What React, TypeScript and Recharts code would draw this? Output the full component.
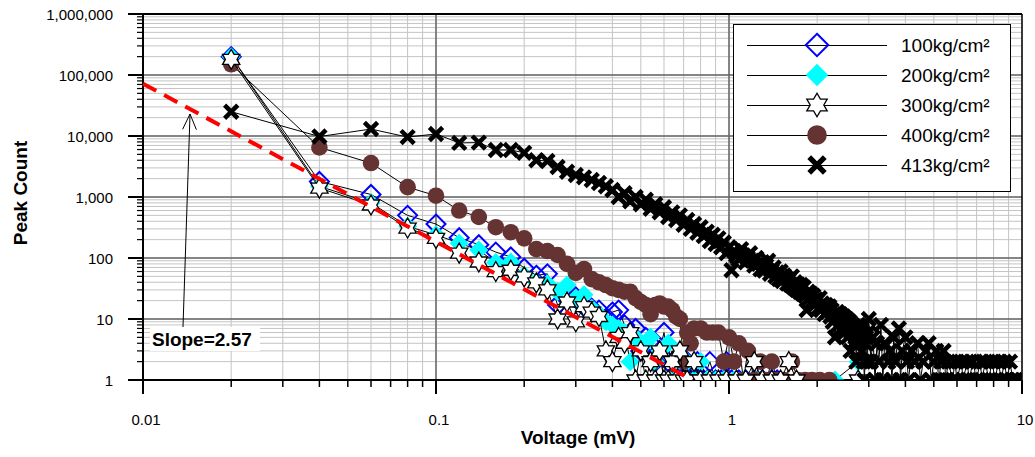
import React from 'react';
import {
  ScatterChart,
  Scatter,
  XAxis,
  YAxis,
  CartesianGrid,
  ReferenceLine,
  ReferenceDot,
  Legend,
} from 'recharts';

const FONT = '"Liberation Sans", Arial, Helvetica, sans-serif';

// axis decades
const X_MAJOR = [0.01, 0.1, 1, 10];
const Y_MAJOR = [1, 10, 100, 1000, 10000, 100000, 1000000];
const MINOR_STEPS = [2, 3, 4, 5, 6, 7, 8, 9];

// peak counts per voltage bin (mV, count)
const P100 = [
  [0.02, 200000], [0.04, 1800], [0.06, 1100], [0.08, 500], [0.1, 360], [0.12, 215], [0.14, 165],
  [0.16, 125], [0.18, 104], [0.2, 68], [0.22, 52], [0.24, 55], [0.26, 17], [0.28, 21], [0.3, 23],
  [0.32, 16], [0.34, 15], [0.36, 14], [0.38, 10], [0.4, 13], [0.42, 14], [0.44, 8], [0.46, 6],
  [0.48, 7], [0.5, 3], [0.52, 5], [0.54, 4], [0.56, 2], [0.58, 3], [0.6, 6], [0.62, 2], [0.64, 3],
  [0.66, 1], [0.68, 2], [0.7, 1], [0.72, 2], [0.74, 1], [0.76, 1], [0.78, 2], [0.8, 1], [0.82, 1],
  [0.86, 2], [0.9, 1], [0.94, 1], [0.98, 2], [1.02, 1], [1.08, 1], [1.14, 1], [1.22, 1], [1.3, 1],
  [1.4, 1], [1.46, 1],
];

const P200 = [
  [0.02, 200000], [0.04, 1500], [0.06, 800], [0.08, 330], [0.1, 240], [0.12, 175], [0.14, 135],
  [0.16, 84], [0.18, 86], [0.2, 52], [0.22, 40], [0.24, 38], [0.26, 28], [0.28, 36], [0.3, 22],
  [0.32, 25], [0.34, 15], [0.36, 12], [0.38, 9], [0.4, 8], [0.42, 7], [0.44, 6], [0.46, 2],
  [0.48, 5], [0.5, 4], [0.52, 4], [0.54, 5], [0.56, 2], [0.58, 3], [0.6, 1], [0.62, 4], [0.64, 1],
  [0.66, 2], [0.68, 1], [0.7, 1], [0.72, 2], [0.76, 1], [0.8, 2], [0.84, 1], [0.9, 1], [0.96, 1],
  [1.04, 1], [1.12, 1], [1.24, 1], [1.4, 1], [2.3, 1], [2.76, 2],
];

const P300 = [
  [0.02, 180000], [0.04, 1400], [0.06, 740], [0.08, 310], [0.1, 210], [0.12, 120], [0.14, 86],
  [0.16, 60], [0.18, 63], [0.2, 49], [0.22, 39], [0.24, 30], [0.26, 10], [0.28, 19], [0.3, 9],
  [0.32, 16], [0.34, 13], [0.36, 11], [0.38, 3], [0.4, 2], [0.42, 5], [0.44, 4], [0.46, 6],
  [0.48, 1], [0.5, 3], [0.52, 1], [0.54, 2], [0.56, 1], [0.58, 3], [0.6, 1], [0.62, 1], [0.64, 2],
  [0.66, 1], [0.68, 3], [0.7, 1], [0.72, 1], [0.76, 2], [0.8, 1], [0.86, 1], [0.92, 1], [0.98, 1],
  [1.06, 1], [1.14, 1], [1.22, 2], [1.3, 1], [1.4, 1], [1.5, 1], [1.6, 2], [1.7, 1], [2.76, 1],
];

const P400 = [
  [0.02, 150000], [0.04, 6500], [0.06, 3600], [0.08, 1450], [0.1, 1050], [0.12, 600], [0.14, 470],
  [0.16, 320], [0.18, 265], [0.2, 210], [0.22, 140], [0.24, 130], [0.26, 112], [0.28, 80],
  [0.3, 57], [0.32, 66], [0.34, 45], [0.36, 40], [0.38, 36], [0.4, 32], [0.42, 30], [0.44, 28],
  [0.46, 28], [0.48, 22], [0.5, 19], [0.52, 17], [0.54, 12], [0.56, 17], [0.58, 18], [0.6, 16],
  [0.62, 16], [0.64, 14], [0.66, 11], [0.68, 10], [0.7, 2], [0.72, 6], [0.74, 4], [0.76, 7],
  [0.8, 7], [0.84, 6], [0.88, 6], [0.92, 6], [0.96, 2], [1.0, 5], [1.04, 2], [1.08, 4], [1.12, 1],
  [1.16, 3], [1.22, 1], [1.28, 2], [1.34, 1], [1.4, 2], [1.46, 1], [1.54, 1], [1.64, 2], [1.72, 1],
  [1.82, 1], [1.92, 1], [2.04, 1], [2.2, 1],
];

const P413 = [
  [0.02, 25000], [0.04, 9800], [0.06, 13000], [0.08, 9600], [0.1, 10800], [0.12, 7700],
  [0.14, 7800], [0.16, 5900], [0.18, 5900], [0.2, 5300], [0.22, 4000], [0.24, 3900], [0.26, 3100],
  [0.28, 2600], [0.3, 2300], [0.32, 2100], [0.34, 1900], [0.36, 1700], [0.38, 1500], [0.4, 1300],
  [0.42, 1000], [0.44, 1150], [0.46, 850], [0.48, 1000], [0.5, 760], [0.52, 900], [0.54, 640],
  [0.56, 760], [0.58, 560], [0.6, 680], [0.62, 470], [0.64, 560], [0.66, 420], [0.68, 500],
  [0.7, 350], [0.72, 420], [0.74, 300], [0.76, 360], [0.78, 260], [0.8, 320], [0.82, 230],
  [0.84, 270], [0.86, 190], [0.88, 240], [0.9, 170], [0.92, 210], [0.94, 150], [0.96, 180],
  [0.98, 120], [1.0, 150], [1.02, 63], [1.04, 130], [1.06, 110], [1.08, 95], [1.1, 140],
  [1.12, 110], [1.14, 85], [1.16, 100], [1.18, 120], [1.2, 90], [1.22, 75], [1.24, 100],
  [1.26, 80], [1.28, 65], [1.3, 85], [1.32, 62], [1.34, 75], [1.36, 90], [1.38, 55], [1.4, 63],
  [1.42, 70], [1.44, 50], [1.46, 58], [1.48, 45], [1.5, 60], [1.52, 42], [1.54, 52], [1.56, 48],
  [1.58, 38], [1.6, 44], [1.62, 36], [1.64, 50], [1.66, 33], [1.68, 40], [1.7, 30], [1.72, 37],
  [1.74, 28], [1.76, 36], [1.78, 26], [1.8, 33], [1.82, 24], [1.84, 14], [1.86, 28], [1.88, 22],
  [1.9, 26], [1.92, 19], [1.94, 24], [1.96, 17], [1.98, 21], [2.0, 20], [2.02, 15], [2.04, 22],
  [2.06, 14], [2.08, 18], [2.1, 16], [2.12, 12], [2.14, 17], [2.16, 13], [2.18, 15], [2.2, 16],
  [2.22, 11], [2.24, 14], [2.26, 9], [2.28, 12], [2.3, 5], [2.32, 11], [2.34, 13], [2.36, 8],
  [2.38, 10], [2.4, 12], [2.42, 7], [2.44, 9], [2.46, 11], [2.48, 6], [2.5, 8], [2.52, 10],
  [2.54, 5], [2.56, 7], [2.58, 9], [2.6, 3], [2.62, 6], [2.64, 8], [2.66, 4], [2.68, 7], [2.7, 5],
  [2.72, 2], [2.74, 6], [2.76, 8], [2.78, 4], [2.8, 5], [2.82, 7], [2.84, 3], [2.86, 6], [2.88, 2],
  [2.9, 1], [2.92, 4], [2.94, 5], [2.96, 2], [2.98, 6], [3.0, 10], [3.05, 2], [3.1, 5], [3.15, 1],
  [3.2, 4], [3.25, 2], [3.3, 8], [3.35, 1], [3.4, 4], [3.5, 2], [3.55, 3], [3.6, 1], [3.65, 5],
  [3.7, 2], [3.8, 7], [3.85, 1], [3.9, 3], [4.0, 5], [4.05, 2], [4.1, 1], [4.2, 3], [4.3, 2],
  [4.4, 4], [4.5, 1], [4.6, 2], [4.7, 3], [4.8, 4], [4.9, 1], [5.0, 2], [5.1, 3], [5.2, 1],
  [5.3, 2], [5.4, 3], [5.5, 1], [5.6, 2], [5.8, 1], [5.9, 2], [6.0, 1], [6.2, 2], [6.3, 1],
  [6.5, 2], [6.6, 1], [6.8, 2], [7.0, 1], [7.2, 2], [7.3, 1], [7.5, 2], [7.7, 1], [7.9, 2],
  [8.1, 1], [8.3, 2], [8.5, 1], [8.7, 2], [8.9, 1], [9.1, 2], [9.3, 1], [9.5, 1], [9.7, 1], [10, 1],
];

// fitted power law, drawn as the red dashed line
const SLOPE_LINE = [
  { x: 0.01, y: 72000 },
  { x: 0.75, y: 1 },
];
const SLOPE_TEXT = 'Slope=2.57';
const ARROW = [
  { x: 0.01369, y: 7.1 },
  { x: 0.01447, y: 22950 },
];
const SLOPE_TEXT_AT = { x: 0.01073, y: 4.7 };

const toPts = (arr) => arr.map(([x, y]) => ({ x, y }));

const SERIES = [
  { name: '100kg/cm²', data: P100, marker: 'openDiamond' },
  { name: '200kg/cm²', data: P200, marker: 'cyanDiamond' },
  { name: '300kg/cm²', data: P300, marker: 'star' },
  { name: '400kg/cm²', data: P400, marker: 'dot' },
  { name: '413kg/cm²', data: P413, marker: 'cross' },
];
// Excel paint order seen in the picture
const DRAW_ORDER = ['100kg/cm²', '200kg/cm²', '400kg/cm²', '300kg/cm²', '413kg/cm²'];

const withMinors = (majors) =>
  majors.flatMap((m, i) =>
    i < majors.length - 1 ? [m, ...MINOR_STEPS.map((s) => +(m * s).toPrecision(6))] : [m]
  );
const X_TICKS = withMinors(X_MAJOR);
const Y_TICKS = withMinors(Y_MAJOR);
const isMajor = (v) => Math.abs(Math.log10(v) - Math.round(Math.log10(v))) < 1e-9;

function Marker({ kind, cx, cy, k = 1 }) {
  if (cx == null || cy == null) return null;
  if (kind === 'openDiamond' || kind === 'cyanDiamond') {
    const r = 9.5 * k;
    const pts = `${cx},${cy - r} ${cx + r},${cy} ${cx},${cy + r} ${cx - r},${cy}`;
    return kind === 'openDiamond' ? (
      <polygon points={pts} fill="none" stroke="#0000FF" strokeWidth={2} />
    ) : (
      <polygon points={pts} fill="#00FFFF" />
    );
  }
  if (kind === 'star') {
    const r = 10 * k;
    const pts = [];
    for (let i = 0; i < 12; i++) {
      const a = -Math.PI / 2 + (i * Math.PI) / 6;
      const rr = i % 2 === 0 ? r : r / Math.sqrt(3);
      pts.push(`${cx + rr * Math.cos(a)},${cy + rr * Math.sin(a)}`);
    }
    return <polygon points={pts.join(' ')} fill="#FFFFFF" stroke="#000" strokeWidth={1.3} />;
  }
  if (kind === 'dot') return <circle cx={cx} cy={cy} r={8.3 * k} fill="#663333" />;
  const r = 6.6 * k;
  return (
    <path
      d={`M${cx - r},${cy - r}L${cx + r},${cy + r}M${cx - r},${cy + r}L${cx + r},${cy - r}`}
      stroke="#000"
      strokeWidth={4.5 * k}
    />
  );
}

function XTick({ x, y, payload }) {
  const v = payload.value;
  const major = isMajor(v);
  return (
    <g>
      <line x1={x} x2={x} y1={y} y2={y + (major ? 14 : 7)} stroke="#000" strokeWidth={major ? 2 : 1.5} />
      {major ? (
        <text x={x + 3} y={y + 39} textAnchor="middle" dominantBaseline="central" fontSize={15} fontFamily={FONT} fill="#000">
          {v}
        </text>
      ) : null}
    </g>
  );
}

function YTick({ x, y, payload }) {
  const v = payload.value;
  const major = isMajor(v);
  return (
    <g>
      <line x1={x - (major ? 15 : 6)} x2={x} y1={y} y2={y} stroke="#000" strokeWidth={major ? 2 : 1.2} />
      {major ? (
        <text x={x - 30} y={y} textAnchor="end" dominantBaseline="central" fontSize={15} fontFamily={FONT} fill="#000">
          {Math.round(v).toLocaleString('en-US')}
        </text>
      ) : null}
    </g>
  );
}

function Arrow({ x1, y1, x2, y2 }) {
  const dx = x2 - x1;
  const dy = y2 - y1;
  const len = Math.hypot(dx, dy) || 1;
  const ux = dx / len;
  const uy = dy / len;
  const L = 17;
  const a = (24 * Math.PI) / 180;
  const rot = (s) => ({
    x: x2 - L * (ux * Math.cos(s * a) - uy * Math.sin(s * a)),
    y: y2 - L * (ux * Math.sin(s * a) + uy * Math.cos(s * a)),
  });
  const p = rot(1);
  const q = rot(-1);
  return (
    <g>
      <line x1={x1} y1={y1} x2={x2} y2={y2} stroke="#000" strokeWidth={1} />
      <polyline points={`${p.x},${p.y} ${x2},${y2} ${q.x},${q.y}`} fill="none" stroke="#000" strokeWidth={1} />
    </g>
  );
}

function LegendBox() {
  return (
    <div style={{ width: 278, height: 168, boxSizing: 'border-box', border: '1.5px solid #000', background: '#fff', position: 'relative' }}>
      <svg width={278} height={168} style={{ position: 'absolute', left: -1.5, top: -1.5 }}>
        {SERIES.map((s, i) => {
          const y = 21 + i * 30;
          return (
            <g key={s.name}>
              <line x1={14} x2={154} y1={y + 0.5} y2={y + 0.5} stroke="#000" strokeWidth={1} />
              <Marker kind={s.marker} cx={84} cy={y} k={1.18} />
              <text x={168} y={y} dominantBaseline="central" fontSize={19} fontFamily={FONT} fill="#000">
                {s.name}
              </text>
            </g>
          );
        })}
      </svg>
    </div>
  );
}

export default function App() {
  const ordered = DRAW_ORDER.map((n) => SERIES.find((s) => s.name === n));
  return (
    <div style={{ position: 'absolute', left: 0, top: 0, width: 1035, height: 457, background: '#fff' }}>
      <ScatterChart width={1035} height={457} margin={{ top: 14, right: 13, bottom: 47, left: 83 }}>
        <CartesianGrid stroke="#c4c4c4" strokeWidth={1} />
        {X_MAJOR.slice(1, -1).map((v) => (
          <ReferenceLine key={'gx' + v} x={v} stroke="#666" strokeWidth={1.5} ifOverflow="visible" zIndex={-50} />
        ))}
        {Y_MAJOR.slice(1, -1).map((v) => (
          <ReferenceLine key={'gy' + v} y={v} stroke="#666" strokeWidth={1.5} ifOverflow="visible" zIndex={-50} />
        ))}
        <ReferenceLine y={1000000} stroke="#000" strokeWidth={2} ifOverflow="visible" zIndex={-40} />
        <ReferenceLine x={10} stroke="#000" strokeWidth={1.5} ifOverflow="visible" zIndex={-40} />
        <XAxis
          dataKey="x"
          type="number"
          scale="log"
          domain={[0.01, 10]}
          allowDataOverflow
          ticks={X_TICKS}
          interval={0}
          tick={<XTick />}
          tickSize={0}
          tickMargin={0}
          tickLine={false}
          axisLine={{ stroke: '#000', strokeWidth: 2 }}
          height={30}
          label={{
            content: () => (
              <text x={578} y={437} textAnchor="middle" dominantBaseline="central" fontSize={19} fontWeight="bold" fontFamily={FONT} fill="#000">
                Voltage (mV)
              </text>
            ),
          }}
        />
        <YAxis
          dataKey="y"
          type="number"
          scale="log"
          domain={[1, 1000000]}
          allowDataOverflow
          ticks={Y_TICKS}
          interval={0}
          tick={<YTick />}
          tickSize={0}
          tickMargin={0}
          tickLine={false}
          axisLine={{ stroke: '#000', strokeWidth: 2 }}
          width={60}
          label={{
            content: () => (
              <text x={20} y={193} transform="rotate(-90 20 193)" textAnchor="middle" dominantBaseline="central" fontSize={19} fontWeight="bold" fontFamily={FONT} fill="#000">
                Peak Count
              </text>
            ),
          }}
        />
        {ordered.map((s) => (
          <Scatter
            key={s.name}
            name={s.name}
            data={toPts(s.data)}
            isAnimationActive={false}
            line={{ stroke: '#000', strokeWidth: 1 }}
            lineType="joint"
            shape={(p) => <Marker kind={s.marker} cx={p.cx} cy={p.cy} />}
          />
        ))}
        <ReferenceLine
          segment={SLOPE_LINE}
          stroke="#FF0000"
          strokeWidth={4}
          strokeDasharray="15 9"
          ifOverflow="visible"
          zIndex={700}
        />
        <ReferenceLine
          segment={ARROW}
          ifOverflow="visible"
          zIndex={710}
          shape={(p) => <Arrow x1={p.x1} y1={p.y1} x2={p.x2} y2={p.y2} />}
        />
        <ReferenceDot
          x={SLOPE_TEXT_AT.x}
          y={SLOPE_TEXT_AT.y}
          ifOverflow="visible"
          zIndex={720}
          shape={(p) => (
            <g>
              <rect x={p.cx - 2} y={p.cy - 12} width={110} height={24} fill="#fff" />
              <text x={p.cx} y={p.cy} dominantBaseline="central" fontSize={19} fontWeight="bold" fontFamily={FONT} fill="#000">
                {SLOPE_TEXT}
              </text>
            </g>
          )}
        />
        <Legend
          layout="vertical"
          align="center"
          verticalAlign="middle"
          content={() => <LegendBox />}
          wrapperStyle={{ left: 733, top: 24, width: 278, height: 168 }}
        />
      </ScatterChart>
    </div>
  );
}
